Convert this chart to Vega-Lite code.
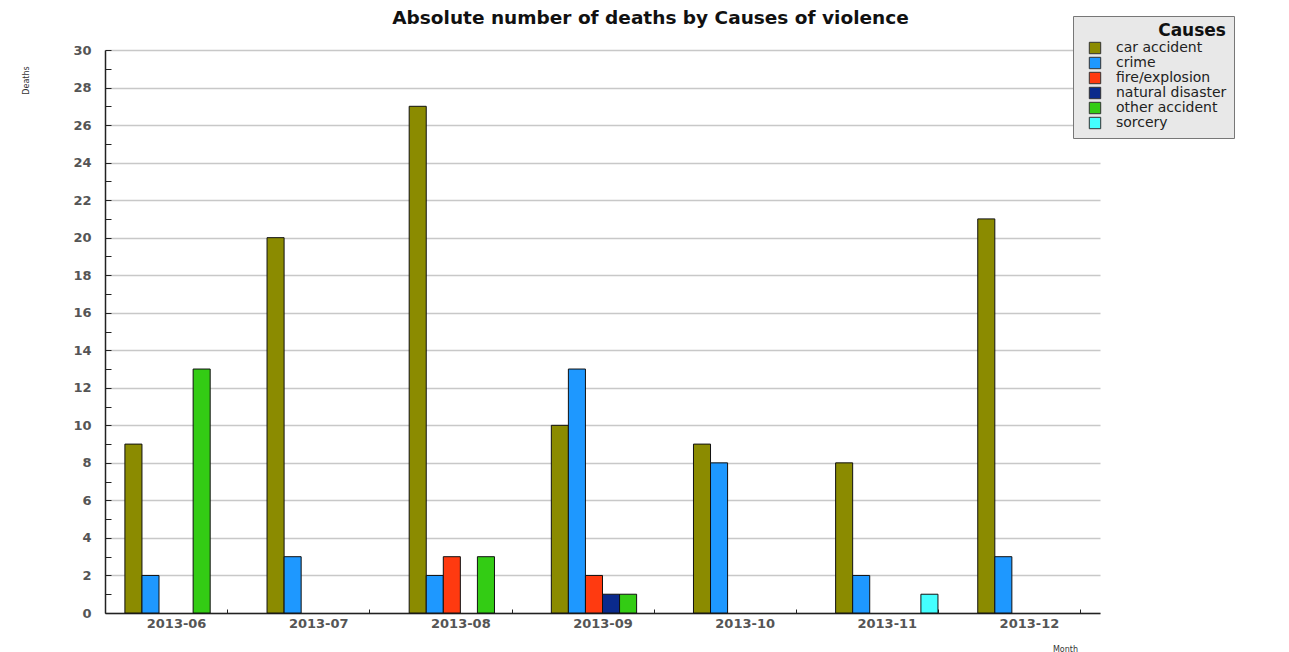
{
  "$schema": "https://vega.github.io/schema/vega-lite/v6.json",
  "width": 995,
  "height": 563,
  "autosize": {"type": "none"},
  "padding": {"left": 105, "top": 50, "right": 189, "bottom": 39},
  "background": "white",
  "title": {
    "text": "Absolute number of deaths by Causes of violence",
    "font": "DejaVu Sans",
    "fontSize": 18.5,
    "fontWeight": "bold",
    "color": "#111",
    "anchor": "middle",
    "frame": "group",
    "dx": 48,
    "offset": -12
  },
  "data": {
    "values": [
      {"month": "2013-06", "cause": "car accident", "deaths": 9},
      {"month": "2013-06", "cause": "crime", "deaths": 2},
      {"month": "2013-06", "cause": "other accident", "deaths": 13},
      {"month": "2013-07", "cause": "car accident", "deaths": 20},
      {"month": "2013-07", "cause": "crime", "deaths": 3},
      {"month": "2013-08", "cause": "car accident", "deaths": 27},
      {"month": "2013-08", "cause": "crime", "deaths": 2},
      {"month": "2013-08", "cause": "fire/explosion", "deaths": 3},
      {"month": "2013-08", "cause": "other accident", "deaths": 3},
      {"month": "2013-09", "cause": "car accident", "deaths": 10},
      {"month": "2013-09", "cause": "crime", "deaths": 13},
      {"month": "2013-09", "cause": "fire/explosion", "deaths": 2},
      {"month": "2013-09", "cause": "natural disaster", "deaths": 1},
      {"month": "2013-09", "cause": "other accident", "deaths": 1},
      {"month": "2013-10", "cause": "car accident", "deaths": 9},
      {"month": "2013-10", "cause": "crime", "deaths": 8},
      {"month": "2013-11", "cause": "car accident", "deaths": 8},
      {"month": "2013-11", "cause": "crime", "deaths": 2},
      {"month": "2013-11", "cause": "sorcery", "deaths": 1},
      {"month": "2013-12", "cause": "car accident", "deaths": 21},
      {"month": "2013-12", "cause": "crime", "deaths": 3}
    ]
  },
  "mark": {"type": "bar", "stroke": "#111", "strokeWidth": 1},
  "encoding": {
    "x": {
      "field": "month",
      "type": "nominal",
      "scale": {"paddingInner": 0.28, "paddingOuter": 0.14},
      "axis": {
        "title": "Month",
        "titleFont": "DejaVu Sans",
        "titleFontSize": 8,
        "titleFontWeight": "normal",
        "titleColor": "#333",
        "titleX": 960,
        "titleY": 32,
        "titleAlign": "center",
        "labelAngle": 0,
        "labelFont": "DejaVu Sans",
        "labelFontSize": 13,
        "labelFontWeight": "bold",
        "labelColor": "#555",
        "labelPadding": 8,
        "tickBand": "extent",
        "tickSize": -4,
        "tickColor": "#222",
        "domainColor": "#222",
        "domainWidth": 1.5,
        "grid": false
      }
    },
    "xOffset": {
      "field": "cause",
      "type": "nominal",
      "scale": {
        "domain": ["car accident", "crime", "fire/explosion", "natural disaster", "other accident", "sorcery"],
        "paddingInner": 0,
        "paddingOuter": 0
      }
    },
    "y": {
      "field": "deaths",
      "type": "quantitative",
      "scale": {"domain": [0, 30], "nice": false},
      "axis": {
        "title": "Deaths",
        "titleFont": "DejaVu Sans",
        "titleFontSize": 8,
        "titleFontWeight": "normal",
        "titleColor": "#333",
        "titleX": -75,
        "titleY": 30,
        "titleAngle": -90,
        "titleAlign": "center",
        "values": [0,1,2,3,4,5,6,7,8,9,10,11,12,13,14,15,16,17,18,19,20,21,22,23,24,25,26,27,28,29,30],
        "labelExpr": "datum.value % 2 === 0 ? datum.label : ''",
        "labelFont": "DejaVu Sans",
        "labelFontSize": 13,
        "labelFontWeight": "bold",
        "labelColor": "#555",
        "labelPadding": 20,
        "tickSize": -6,
        "tickColor": "#222",
        "domainColor": "#222",
        "domainWidth": 1.5,
        "gridColor": "#c8c8c8",
        "gridWidth": 1.5,
        "gridOpacity": {"condition": {"test": "datum.value % 2 === 1", "value": 0}, "value": 1}
      }
    },
    "color": {
      "field": "cause",
      "type": "nominal",
      "scale": {
        "domain": ["car accident", "crime", "fire/explosion", "natural disaster", "other accident", "sorcery"],
        "range": ["#8b8b00", "#1e98ff", "#ff3a10", "#0a2a8c", "#33cc14", "#44ffff"]
      },
      "legend": {
        "title": "Causes",
        "orient": "none",
        "legendX": 968,
        "legendY": -34,
        "direction": "vertical",
        "titleFont": "DejaVu Sans",
        "titleFontSize": 17,
        "titleFontWeight": "bold",
        "titleColor": "#111",
        "titleAnchor": "end",
        "titlePadding": 1,
        "labelFont": "DejaVu Sans",
        "labelFontSize": 14,
        "labelColor": "#222",
        "symbolType": "square",
        "symbolSize": 130,
        "symbolStrokeColor": "#333",
        "symbolStrokeWidth": 1,
        "symbolOffset": 8,
        "rowPadding": -5,
        "labelOffset": 14,
        "fillColor": "#e8e8e8",
        "strokeColor": "#777",
        "padding": 7
      }
    }
  },
  "config": {
    "view": {"stroke": null}
  }
}
